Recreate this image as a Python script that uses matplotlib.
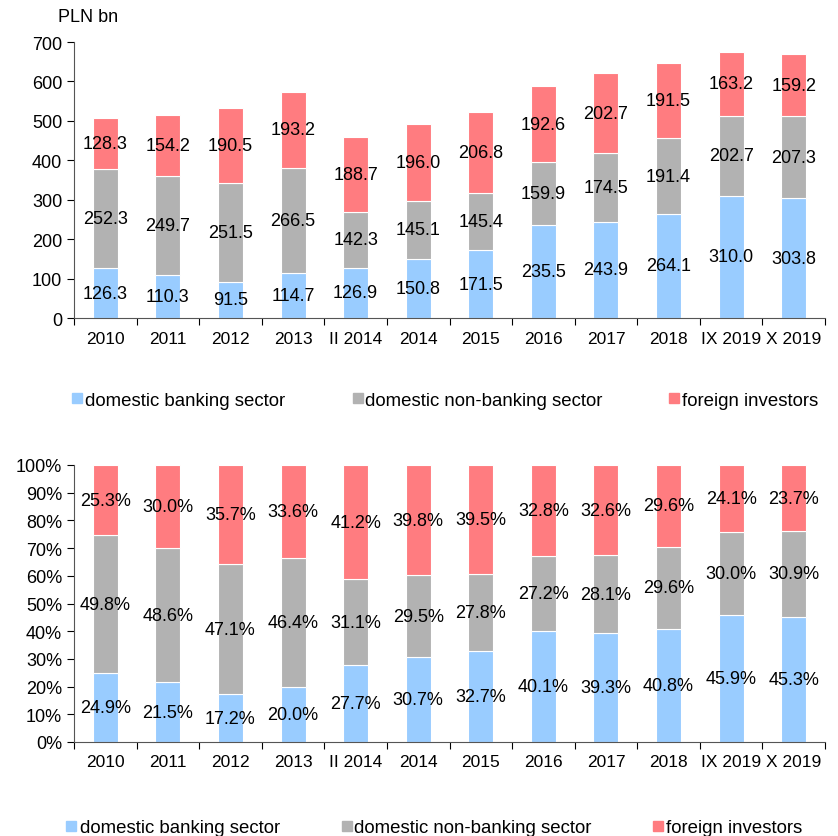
import numpy as np
import matplotlib.pyplot as plt
from matplotlib.patches import Rectangle

plt.rcParams['font.family'] = ['Liberation Sans', 'DejaVu Sans']

periods = ["2010", "2011", "2012", "2013", "II 2014", "2014", "2015", "2016",
           "2017", "2018", "IX 2019", "X 2019"]
banking = np.array([126.3, 110.3, 91.5, 114.7, 126.9, 150.8, 171.5, 235.5,
                    243.9, 264.1, 310.0, 303.8])
non_banking = np.array([252.3, 249.7, 251.5, 266.5, 142.3, 145.1, 145.4, 159.9,
                        174.5, 191.4, 202.7, 207.3])
foreign = np.array([128.3, 154.2, 190.5, 193.2, 188.7, 196.0, 206.8, 192.6,
                    202.7, 191.5, 163.2, 159.2])

banking_pct = np.array([24.9, 21.5, 17.2, 20.0, 27.7, 30.7, 32.7, 40.1,
                        39.3, 40.8, 45.9, 45.3])
non_banking_pct = np.array([49.8, 48.6, 47.1, 46.4, 31.1, 29.5, 27.8, 27.2,
                            28.1, 29.6, 30.0, 30.9])
foreign_pct = np.array([25.3, 30.0, 35.7, 33.6, 41.2, 39.8, 39.5, 32.8,
                        32.6, 29.6, 24.1, 23.7])

series_names = ["domestic banking sector", "domestic non-banking sector",
                "foreign investors"]
colors = ["#99CCFF", "#B2B2B2", "#FF7C80"]

W, H = 838, 837
fig = plt.figure(figsize=(W / 100, H / 100), dpi=100)
ax1 = fig.add_axes([74 / W, 1 - 319 / H, 751 / W, 276 / H])
ax2 = fig.add_axes([74 / W, 1 - 743 / H, 751 / W, 277 / H])

x = np.arange(len(periods))
w = 0.4


def draw(ax, vals, fmt):
    bottom = np.zeros(len(periods))
    for v, c in zip(vals, colors):
        ax.bar(x, v, w, bottom=bottom, color=c, edgecolor="white", linewidth=0.8)
        for xi, b, vi in zip(x, bottom, v):
            ax.text(xi, b + vi / 2, fmt.format(vi), ha="center", va="center",
                    fontsize=13)
        bottom = bottom + v
    ax.set_xlim(-0.5, len(periods) - 0.5)
    ax.set_xticks(np.arange(len(periods) + 1) - 0.5)
    ax.set_xticklabels([])
    ax.set_xticks(x, minor=True)
    ax.set_xticklabels(periods, minor=True, fontsize=12.5)
    ax.tick_params(axis="x", which="minor", length=0, pad=9)
    ax.tick_params(axis="x", which="major", length=5, direction="out")
    ax.tick_params(axis="y", labelsize=13, length=5)
    for s in ["top", "right"]:
        ax.spines[s].set_visible(False)
    ax.spines["left"].set_color("#555555")
    ax.spines["bottom"].set_color("#555555")


draw(ax1, [banking, non_banking, foreign], "{:.1f}")
ax1.set_ylim(0, 700)
ax1.set_yticks(np.arange(0, 701, 100))
fig.text(58 / W, 1 - 18 / H, "PLN bn", fontsize=13, va="center")

draw(ax2, [banking_pct, non_banking_pct, foreign_pct], "{:.1f}%")
ax2.set_ylim(0, 100)
ax2.set_yticks(np.arange(0, 101, 10))
ax2.set_yticklabels([f"{t}%" for t in range(0, 101, 10)])


def legend_row(y, square_x, text_x):
    for c, n, sx, tx in zip(colors, series_names, square_x, text_x):
        fig.patches.append(Rectangle((sx / W, 1 - (y + 5) / H), 10 / W, 10 / H,
                                     transform=fig.transFigure, color=c))
        fig.text(tx / W, 1 - (y + 2) / H, n, fontsize=13.4, va="center",
                 ha="left")


legend_row(399, [72, 353, 669], [85, 365, 682])
legend_row(827, [66, 342, 653], [80, 354, 666])

fig.savefig("out.png", dpi=100)
